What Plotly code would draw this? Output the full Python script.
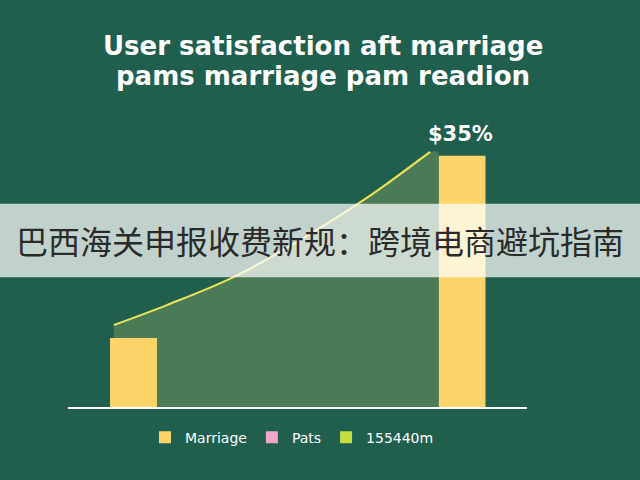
import plotly.graph_objects as go

# bars (marriage series)
bar_x = [1, 8]
bar_y = [22.5, 81.8]
bar_labels = ["", "$35%"]

# trend curve
curve_x = [0.58, 1.71, 3.13, 4.55, 5.97, 7.32]
curve_y = [26.7, 33.2, 42.3, 54.4, 68.1, 83.1]

legend_names = ["Marriage", "Pats", "155440m"]
legend_colors = ["#fcd46a", "#f2a7cb", "#c3de3e"]

title_lines = ["User satisfaction aft marriage", "pams marriage pam readion"]
banner_text = "巴西海关申报收费新规：跨境电商避坑指南"

bg = "#205e4e"
half = 0.5  # bar half width in x units

fig = go.Figure()

# bars sit below scatter layers in plotly, so the shaded area must skip the left bar:
# lower edge follows the left bar top, then drops to the baseline
low_x = [curve_x[0], bar_x[0] + half, bar_x[0] + half, bar_x[1] - half]
low_y = [bar_y[0], bar_y[0], 0, 0]
fig.add_trace(go.Scatter(x=low_x, y=low_y, mode="lines", line=dict(width=0),
                         showlegend=False, hoverinfo="skip"))
fig.add_trace(go.Scatter(x=curve_x + [bar_x[1] - half], y=curve_y + [curve_y[-1]],
                         mode="lines", line=dict(width=0, shape="spline"),
                         fill="tonexty", fillcolor="#4b7a56", showlegend=False,
                         hoverinfo="skip"))

fig.add_trace(go.Bar(x=bar_x, y=bar_y, width=1.0, name=legend_names[0],
                     marker=dict(color=legend_colors[0], line=dict(width=0))))
for nm, col in zip(legend_names[1:], legend_colors[1:]):
    fig.add_trace(go.Bar(x=[None], y=[None], name=nm,
                         marker=dict(color=col, line=dict(width=0))))

fig.add_trace(go.Scatter(x=curve_x, y=curve_y, mode="lines",
                         line=dict(color="#eee45a", width=2, shape="spline"),
                         showlegend=False))

# value label over the tall bar
fig.add_annotation(x=bar_x[1], y=bar_y[1], text="<b>" + bar_labels[1] + "</b>",
                   showarrow=False, yshift=22, xshift=-2,
                   font=dict(family="DejaVu Sans", size=21, color="white"))

# two-line title, tighter line spacing than plotly's title gives
for txt, yy in zip(title_lines, [1 + (407 - 46 - 307) / 307, 1 + (407 - 76 - 307) / 307]):
    fig.add_annotation(xref="paper", yref="paper", x=(323 - 68) / 459, y=yy,
                       yanchor="middle", text="<b>" + txt + "</b>", showarrow=False,
                       font=dict(family="DejaVu Sans", size=26, color="white"))

# translucent banner across the middle
fig.add_shape(type="rect", xref="paper", yref="y", x0=-0.16, x1=1.26,
              y0=42.3, y1=66.2, fillcolor="rgba(255,255,255,0.72)",
              line=dict(width=0), layer="above")
fig.add_annotation(xref="paper", yref="y", x=(320 - 68) / 459, y=54.5,
                   text=banner_text, showarrow=False,
                   font=dict(family="Noto Sans CJK SC", size=32, color="#2a2a2a"))

fig.update_layout(
    width=640, height=480,
    margin=dict(l=68, r=113, t=100, b=73),
    paper_bgcolor=bg, plot_bgcolor=bg,
    barmode="overlay",
    xaxis=dict(range=[-0.396, 9.384], showgrid=False, zeroline=False,
               showticklabels=False, showline=True, linecolor="white",
               linewidth=2, fixedrange=True),
    yaxis=dict(range=[0, 100], showgrid=False, zeroline=False,
               showticklabels=False, fixedrange=True),
    legend=dict(orientation="h", x=0.488, xanchor="center", y=-0.1,
                yanchor="middle", itemwidth=30, traceorder="normal",
                font=dict(family="DejaVu Sans", size=14, color="white"),
                bgcolor="rgba(0,0,0,0)"),
    showlegend=True,
)

fig.write_html("out.html", config={"displayModeBar": False},
               post_script="document.body.style.margin='0';")
